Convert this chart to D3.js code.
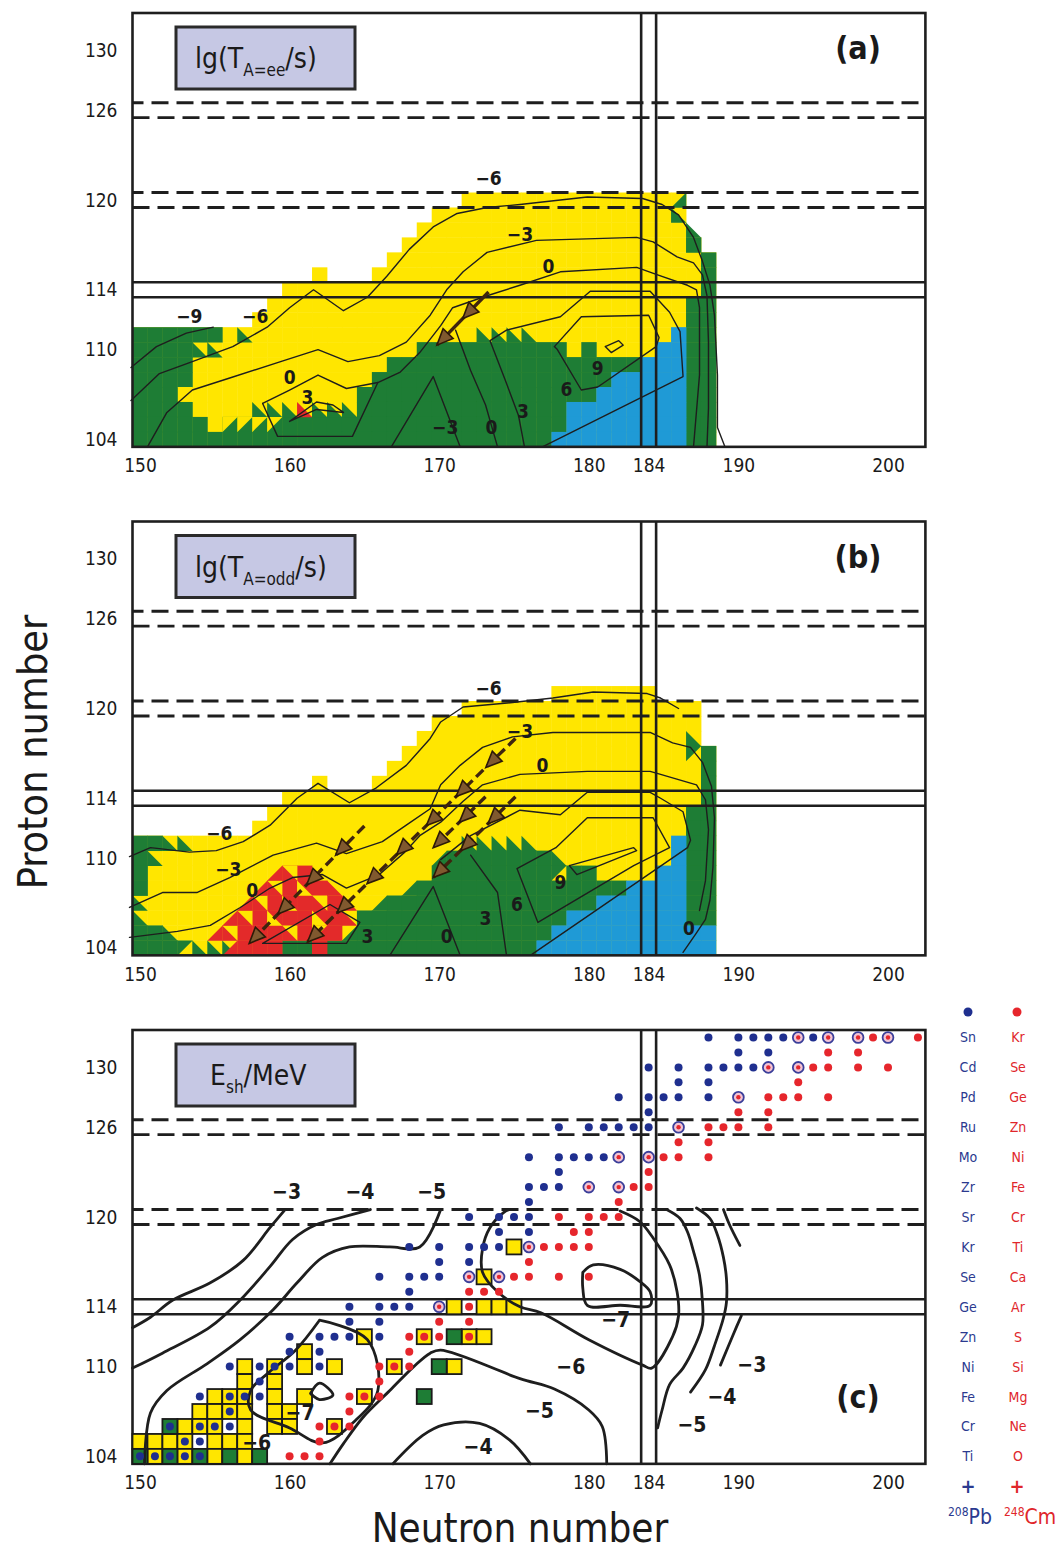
<!DOCTYPE html>
<html>
<head>
<meta charset="utf-8">
<title>Half-lives and shell energies of superheavy nuclei</title>
<script src="https://cdn.jsdelivr.net/npm/d3@7"></script>
<style>
  body { margin: 0; background: #fff; }
  svg text { font-family: "DejaVu Sans Condensed", "DejaVu Sans", sans-serif; fill: #1a1a1a; }
</style>
</head>
<body>
<svg id="chart" width="1057" height="1555"></svg>
<script>
// ---------------- Axes & shell lines ----------------
const xTicks = [150, 160, 170, 180, 184, 190, 200];
const zTicks = [104, 110, 114, 120, 126, 130];
const shellZdashed = [126.5, 125.5, 120.5, 119.5];
const shellZsolid = [114.5, 113.5];
const shellN = [183.5, 184.5];

// ---------------- Panel (a): lg(T A=ee / s) ----------------
// runs: [Z, firstN, lastN]
const aAll = [[120,172,186],[119,170,186],[118,169,186],[117,168,187],[116,167,188],[115,162,162],[115,166,188],
  [114,160,188],[113,159,188],[112,158,188],[111,150,188],[110,150,188],[109,150,188],[108,150,188],
  [107,150,188],[106,150,188],[105,150,188],[104,150,188]];
const aGreen = [[117,187,187],[116,188,188],[115,188,188],[114,188,188],[113,187,188],[112,187,188],
  [111,150,155],[111,187,188],[110,150,153],[110,169,178],[110,180,180],[110,187,188],
  [109,150,153],[109,167,183],[109,187,188],[108,150,153],[108,166,181],[108,187,188],
  [107,150,152],[107,165,180],[107,187,188],[106,150,153],[106,165,178],[106,187,188],
  [105,150,154],[105,156,178],[105,187,188],[104,150,177],[104,187,188]];
const aBlue = [[111,186,186],[110,185,186],[109,184,186],[108,182,186],[107,181,186],[106,179,186],[105,179,186],[104,178,186]];
const aRed = [];
// half cells: [N, Z, corner of the right angle]
const aGreenTri = [[186,120,"lr"],[186,119,"ll"],[187,118,"ll"],[157,111,"ll"],[173,111,"ll"],[174,111,"ll"],
  [175,111,"ll"],[176,111,"ll"],[154,110,"ll"],[155,110,"ll"],[158,106,"ll"],[159,106,"ll"],[160,106,"ll"],
  [162,106,"ll"],[163,106,"ll"],[164,106,"ll"]];
const aYellowTri = [[153,107,"ur"],[156,105,"ul"],[157,105,"ul"],[158,105,"ul"],[159,105,"ul"]];
const aRedTri = [[161,106,"ll"]];
const aContours = [
  [[149.4,108.8],[151.1,110.2],[153.1,111.1],[154.9,111.5]],
  [[149.4,106.6],[151.3,108.4],[153.5,109.2],[156.2,110.2],[158.5,111.5],[160.0,112.8],[161.6,114.0],[163.6,112.6],
   [165.2,113.5],[166.5,114.9],[168.0,116.7],[169.6,118.2],[171.2,119.1],[173.2,119.5],[175.4,119.7],[179.9,120.2],
   [183.6,120.1],[184.9,119.7],[186.0,119.0],[187.0,117.5],[187.6,115.9],[188.1,114.3],[188.4,112.3],[188.6,108.3],
   [188.6,104.8],[189.1,103.5]],
  [[150.5,103.5],[151.8,105.8],[153.5,107.3],[156.0,108.1],[159.4,109.2],[161.9,110.0],[163.9,109.2],[166.0,109.6],
   [167.8,110.5],[169.4,112.3],[170.5,114.0],[171.6,115.2],[173.2,116.5],[176.5,117.3],[183.2,117.5],[184.3,117.2],
   [185.9,116.2],[187.0,115.8],[187.6,115.0],[187.9,113.6],[188.0,110.5],[188.0,106.1],[187.9,103.5]],
  [[158.2,106.4],[160.0,107.3],[161.9,108.3],[163.8,107.4],[165.9,107.8],[167.4,108.5],[168.7,109.8],[170.1,111.6],
   [170.9,112.8],[173.2,113.6],[175.4,114.3],[178.1,115.2],[183.2,115.5],[184.6,115.0],[186.6,114.3],[187.2,114.0],
   [187.4,112.8],[187.4,108.3],[187.0,103.5]],
  [[158.2,106.4],[159.2,104.2],[164.2,104.2],[165.9,107.8]],
  [[160.0,105.2],[161.8,106.5],[162.9,106.3],[163.6,105.8],[161.8,106.0],[160.0,105.2]],
  [[176.9,103.5],[186.3,108.2],[186.1,111.2],[185.4,112.5],[184.1,113.9],[180.1,113.9],[178.1,112.2],[174.5,111.3],
   [173.4,110.6],[174.4,108.0],[175.3,105.6],[175.7,103.5]],
  [[177.7,110.2],[179.5,112.2],[184.0,112.3],[184.7,110.8],[184.5,110.2],[180.6,107.5],[179.5,107.3],[177.9,110.0],[177.7,110.2]],
  [[181.1,110.2],[182.0,110.6],[182.3,110.3],[181.5,109.8],[181.1,110.2]],
  [[166.8,103.5],[169.6,108.2],[171.4,103.5]],
  [[171.1,111.3],[172.1,108.6],[173.1,106.3],[173.9,103.5]]
];
const aLabels = [[153.3,112.25,"−9"],[157.7,112.25,"−6"],[160.0,108.2,"0"],[161.2,106.8,"3"],[173.3,121.5,"−6"],
  [175.4,117.7,"−3"],[177.3,115.6,"0"],[170.4,104.8,"−3"],[173.5,104.8,"0"],[175.6,105.9,"3"],[178.5,107.4,"6"],[180.6,108.8,"9"]];
// decay paths: [from, to, number of heads]
const aArrows = [[[173.3,113.85],[169.85,110.3],2]];

// ---------------- Panel (b): lg(T A=odd / s) ----------------
const bAll = [[121,178,184],[120,172,187],[119,170,187],[118,169,187],[117,168,188],[116,167,188],[115,162,162],
  [115,166,188],[114,160,188],[113,159,188],[112,158,188],[111,150,188],[110,150,188],[109,150,188],[108,150,188],
  [107,150,188],[106,150,188],[105,150,188],[104,150,188]];
const bGreen = [[117,188,188],[116,188,188],[115,188,188],[114,188,188],[113,187,188],[112,187,188],
  [111,150,151],[111,187,188],[110,150,150],[110,171,177],[110,187,188],[109,150,150],[109,170,177],[109,179,180],
  [109,187,188],[108,150,150],[108,169,182],[108,187,188],[107,167,180],[107,187,188],[106,165,178],[106,187,188],
  [105,150,151],[105,165,177],[104,150,152],[104,160,161],[104,163,176]];
const bBlue = [[111,186,186],[110,186,186],[109,185,186],[108,183,186],[107,181,186],[106,179,186],[105,178,188],[104,177,188]];
const bRed = [[109,160,161],[108,159,162],[107,158,163],[106,157,163],[105,156,163],[104,157,159],[104,162,162]];
const bGreenTri = [[152,111,"ll"],[153,111,"ll"],[151,110,"ll"],[150,107,"ll"],[150,106,"ll"],[152,105,"ll"],
  [153,104,"ul"],[154,104,"ll"],[155,104,"ll"],[156,104,"ll"],[172,111,"ll"],[173,111,"ll"],[174,111,"ll"],
  [175,111,"ll"],[176,111,"ll"],[170,110,"lr"],[178,110,"ll"],[178,109,"ul"],[187,118,"ll"],[187,117,"ul"],
  [164,105,"lr"],[166,107,"lr"],[168,108,"lr"]];
const bYellowTri = [[160,109,"ur"],[161,108,"ll"],[159,108,"ur"],[158,107,"ur"],[160,107,"ll"],[162,107,"ur"],
  [157,106,"ur"],[159,106,"ll"],[162,106,"ll"],[156,105,"ur"],[160,105,"ur"],[162,105,"ul"]];
const bRedTri = [[159,109,"lr"],[158,108,"lr"],[163,108,"ll"],[157,107,"lr"],[164,107,"ll"],[156,106,"lr"],
  [155,105,"lr"],[164,106,"ll"],[156,104,"lr"]];
const bContours = [
  [[149.3,110.1],[150.7,110.7],[153.3,110.4],[155.1,110.5],[156.9,111.1],[158.7,112.2],[160.5,114.0],[161.9,115.0],
   [164.0,113.7],[165.8,114.7],[167.8,116.2],[169.4,118.0],[170.1,119.1],[171.6,120.1],[174.9,120.4],[177.6,120.7],
   [180.3,121.1],[183.9,121.0],[184.8,120.7],[186.0,120.0]],
  [[149.3,106.7],[151.5,107.7],[153.8,107.7],[156.0,108.7],[158.9,110.2],[161.8,111.0],[163.8,110.3],[166.2,111.1],
   [167.8,112.2],[169.4,113.3],[170.1,114.9],[171.4,116.2],[172.9,117.4],[174.9,118.1],[177.6,118.4],[184.1,118.4],
   [185.6,117.7],[186.8,117.4],[187.6,116.4],[188.2,114.8],[188.4,112.7],[188.3,109.4],[188.1,107.2],[187.8,105.9],
   [187.2,105.0],[186.3,103.7]],
  [[149.3,104.7],[152.5,105.1],[154.7,105.5],[156.7,106.7],[158.7,108.0],[160.2,108.7],[162.2,108.9],[163.8,108.0],
   [166.0,108.9],[167.7,110.4],[168.7,111.5],[170.1,112.4],[171.6,113.8],[172.9,114.9],[175.4,115.6],[179.9,115.8],
   [184.1,115.8],[184.8,115.6],[187.2,114.9],[187.8,113.9],[188.0,111.9],[187.8,108.5],[187.4,106.5]],
  [[158.2,104.3],[162.7,106.9],[164.7,105.7],[163.8,104.3],[158.2,104.3]],
  [[170.1,109.9],[172.1,111.5],[175.4,113.2],[178.1,112.9],[179.9,114.4],[184.1,114.4],[184.8,114.0],[186.3,113.1],
   [186.8,111.2],[186.6,110.7],[176.1,103.5]],
  [[177.8,110.7],[179.9,112.7],[184.3,112.7],[185.4,110.7],[183.0,109.5],[176.6,105.7],[175.2,109.3],[177.8,110.7]],
  [[178.7,109.5],[179.2,108.9],[183.2,110.5],[183.0,110.7],[178.7,109.5]],
  [[166.7,103.5],[169.6,108.1],[171.4,103.5]],
  [[172.1,110.2],[173.9,107.7],[174.5,103.5]]
];
const bLabels = [[155.3,111.7,"−6"],[155.9,109.3,"−3"],[157.5,107.9,"0"],[165.2,104.8,"3"],[173.3,121.4,"−6"],
  [175.4,118.5,"−3"],[176.9,116.2,"0"],[170.5,104.8,"0"],[173.1,106.0,"3"],[175.2,106.9,"6"],[178.1,108.4,"9"],[186.7,105.3,"0"]];
const bArrows = [[[165.0,112.15],[157.3,104.3],4],[[175.1,118.0],[161.2,104.4],7],
  [[175.1,114.1],[169.6,108.7],3],[[173.1,114.1],[169.6,110.7],2]];

// ---------------- Panel (c): E_sh / MeV ----------------
const cContours = [
  [[149.5,112.6],[150.7,113.3],[152.2,114.45],[154.7,115.6],[156.9,117.1],[158.7,119.3],[159.7,120.5]],
  [[149.5,109.9],[151.5,110.9],[154.7,112.65],[156.7,114.45],[158.7,116.7],[160.2,118.5],[161.8,119.5],[163.2,119.9],[165.4,120.5]],
  [[150.3,103.5],[150.7,106.9],[151.8,108.4],[154.5,110.2],[156.7,111.8],[158.9,113.8],[160.5,115.6],[162.2,117.3],
   [164.0,118.0],[166.7,118.0],[168.7,118.0],[170.1,120.5]],
  [[162.0,113.1],[165.2,111.8],[165.9,108.4],[164.4,106.4],[162.2,104.9],[160.0,105.9],[157.4,107.1],[157.4,108.4],
   [158.6,109.6],[160.4,111.1],[162.0,113.1]],
  [[161.4,108.2],[162.0,108.9],[162.9,108.1],[162.0,107.8],[161.4,108.2]],
  [[174.7,120.5],[174.3,120.3],[173.4,119.3],[172.9,117.9],[172.9,116.3],[173.9,115.0],[175.4,114.0],[176.8,113.6],
   [180.0,111.8],[183.6,110.1],[184.2,109.9],[185.6,112.0],[186.0,113.4],[185.9,115.0],[185.4,116.8],[184.3,118.6],
   [183.4,119.7],[182.1,120.4]],
  [[179.6,116.3],[180.3,116.8],[182.1,116.5],[183.4,115.7],[184.1,115.0],[184.1,114.1],[182.1,114.1],[179.9,114.1],
   [179.6,115.25],[179.6,116.3]],
  [[162.7,103.5],[163.6,104.85],[164.9,106.6],[166.7,108.4],[168.3,110.0],[169.4,110.9],[170.1,111.1],[175.4,109.2],
   [177.7,108.5],[180.0,107.1],[180.9,106.0],[181.2,103.5]],
  [[166.9,103.5],[168.9,105.4],[170.3,106.1],[172.7,106.2],[174.7,105.1],[176.1,103.5]],
  [[185.2,120.5],[186.1,119.9],[186.6,119.0],[187.0,117.7],[187.4,116.1],[187.6,114.3],[187.6,112.8],[187.1,111.4],
   [186.3,109.9],[185.4,108.8],[184.9,107.1],[184.6,105.9]],
  [[187.2,120.6],[188.1,119.9],[188.6,118.8],[189.0,117.3],[189.2,115.9],[189.2,114.3],[189.0,113.25],[188.4,111.4],
   [187.8,109.8],[186.8,108.3]],
  [[189.0,120.5],[189.4,119.5],[190.1,118.1]],
  [[190.2,113.4],[189.7,112.25],[188.8,110.1]]
];
const cLabels = [[159.8,121.7,"−3"],[164.7,121.7,"−4"],[169.5,121.7,"−5"],[181.8,113.1,"−7"],[178.8,110.0,"−6"],
  [176.7,107.0,"−5"],[172.6,104.6,"−4"],[190.9,110.1,"−3"],[188.9,108.0,"−4"],[186.9,106.1,"−5"],[160.7,106.9,"−7"],[157.8,104.9,"−6"]];
// compound nuclei reached with 208Pb targets (blue), 248Cm targets (red), both
const blueDots = [[188,132],[190,132],[191,132],[192,132],[193,132],[195,132],[190,131],[192,131],
  [184,130],[186,130],[188,130],[189,130],[190,130],[191,130],[186,129],[188,129],
  [182,128],[184,128],[185,128],[186,128],[188,128],[184,127],
  [178,126],[180,126],[181,126],[182,126],[183,126],[184,126],
  [176,124],[178,124],[179,124],[180,124],[181,124],[178,123],[176,122],[177,122],[178,122],[176,121],
  [172,120],[174,120],[175,120],[176,120],[174,119],[176,119],
  [168,118],[170,118],[172,118],[173,118],[174,118],[170,117],[172,117],
  [166,116],[168,116],[169,116],[170,116],[168,115],[164,114],[166,114],[167,114],[168,114],[164,113],[166,113],
  [160,112],[162,112],[163,112],[164,112],[166,112],[160,111],[162,111],
  [156,110],[158,110],[159,110],[160,110],[162,110],[158,109],[154,108],[156,108],[157,108],[158,108],[156,107],
  [152,106],[154,106],[155,106],[156,106],[153,105],[154,105],[150,104],[151,104],[152,104],[153,104],[154,104]];
const redDots = [[199,132],[202,132],[196,131],[198,131],[195,130],[196,130],[198,130],[200,130],[194,129],
  [192,128],[193,128],[194,128],[196,128],[190,127],[192,127],[188,126],[189,126],[190,126],[192,126],
  [186,125],[188,125],[185,124],[186,124],[188,124],[184,123],[183,122],[184,122],[182,121],
  [178,120],[180,120],[181,120],[182,120],[179,119],[180,119],[177,118],[178,118],[179,118],[180,118],[176,117],
  [175,116],[176,116],[178,116],[180,116],[172,115],[173,115],[174,115],[172,114],[170,113],[172,113],
  [168,112],[169,112],[170,112],[172,112],[168,111],[166,110],[167,110],[168,110],[166,109],
  [164,108],[165,108],[166,108],[164,107],[162,106],[163,106],[164,106],[162,105],[160,104],[161,104],[162,104]];
const bothDots = [[194,132],[196,132],[198,132],[200,132],[192,130],[194,130],[190,128],[186,126],[182,124],[184,124],
  [180,122],[182,122],[176,118],[172,116],[174,116],[170,114]];
// known nuclei: squares
const yellowSq = [[175,118],[173,116],[171,114],[173,114],[174,114],[175,114],[165,112],[169,112],[172,112],[173,112],
  [161,111],[157,110],[159,110],[161,110],[163,110],[167,110],[171,110],[157,109],[159,109],
  [155,108],[156,108],[157,108],[159,108],[161,108],[165,108],[154,107],[155,107],[156,107],[157,107],[159,107],[160,107],
  [153,106],[154,106],[155,106],[157,106],[159,106],[160,106],[163,106],
  [150,105],[151,105],[152,105],[153,105],[155,105],[156,105],[157,105],[151,104],[153,104],[155,104],[157,104]];
const greenSq = [[171,112],[170,110],[169,108],[152,106],[150,104],[152,104],[154,104],[156,104],[158,104]];

// legend (projectile per compound proton number)
const legendZ = [132,130,128,126,124,122,120,118,116,114,112,110,108,106,104];
const pbProjectiles = ["Sn","Cd","Pd","Ru","Mo","Zr","Sr","Kr","Se","Ge","Zn","Ni","Fe","Cr","Ti"];
const cmProjectiles = ["Kr","Se","Ge","Zn","Ni","Fe","Cr","Ti","Ca","Ar","S","Si","Mg","Ne","O"];

// ---------------- Drawing ----------------
const COL = { Y: "#ffe600", G: "#1e7d35", B: "#1f9ad6", R: "#e32a2a", ink: "#1e1e1e",
              dotB: "#1f2f8f", dotR: "#e6262c", box: "#c6c8e4" };
const svg = d3.select("#chart");
const x = d3.scaleLinear().domain([149.5, 202.5]).range([132.5, 925.4]);
const CELL = x(1) - x(0);
const PANEL_H = CELL * 29;
const makeY = top => d3.scaleLinear().domain([103.5, 132.5]).range([top + PANEL_H, top]);

function cells(g, y, runs, color) {
  const data = runs.flatMap(([z, n0, n1]) => d3.range(n0, n1 + 1).map(n => [n, z]));
  g.append("g").selectAll("rect").data(data).join("rect")
    .attr("x", d => x(d[0] - 0.5)).attr("y", d => y(d[1] + 0.5))
    .attr("width", CELL + 0.4).attr("height", CELL + 0.4).attr("fill", color);
}
function tris(g, y, list, color) {
  g.append("g").selectAll("path").data(list).join("path")
    .attr("d", ([n, z, c]) => {
      const L = x(n - 0.5), R = x(n + 0.5) + 0.3, T = y(z + 0.5), B = y(z - 0.5) + 0.3;
      const p = { ll: [[L,B],[R,B],[L,T]], lr: [[R,B],[L,B],[R,T]], ul: [[L,T],[R,T],[L,B]], ur: [[R,T],[L,T],[R,B]] }[c];
      return d3.line()(p) + "Z";
    })
    .attr("fill", color);
}
function contours(g, y, list, width, curve) {
  const line = d3.line().x(d => x(d[0])).y(d => y(d[1])).curve(curve);
  g.append("g").selectAll("path").data(list).join("path")
    .attr("d", line).attr("fill", "none").attr("stroke", COL.ink)
    .attr("stroke-width", width).attr("stroke-linejoin", "round").attr("stroke-linecap", "round");
}
function labels(g, y, list, size, weight) {
  g.append("g").selectAll("text").data(list).join("text")
    .attr("x", d => x(d[0])).attr("y", d => y(d[1]))
    .attr("text-anchor", "middle").attr("dominant-baseline", "central")
    .attr("font-size", size).attr("font-weight", weight).text(d => d[2]);
}
function arrows(g, y, list, dashed) {
  const ag = g.append("g");
  list.forEach(([s, e, n]) => {
    const x0 = x(s[0]), y0 = y(s[1]), x1 = x(e[0]), y1 = y(e[1]);
    ag.append("line").attr("x1", x0).attr("y1", y0).attr("x2", x1).attr("y2", y1)
      .attr("stroke", "#3f250f").attr("stroke-width", 3.4)
      .attr("stroke-dasharray", dashed ? "10 5" : null);
    const ang = Math.atan2(y1 - y0, x1 - x0);
    d3.range(1, n + 1).forEach(k => {
      const hx = x0 + (x1 - x0) * k / n, hy = y0 + (y1 - y0) * k / n;
      const len = 16, hw = 7;
      const bx = hx - len * Math.cos(ang), by = hy - len * Math.sin(ang);
      const pts = [[hx, hy], [bx + hw * Math.sin(ang), by - hw * Math.cos(ang)], [bx - hw * Math.sin(ang), by + hw * Math.cos(ang)]];
      ag.append("path").attr("d", d3.line()(pts) + "Z")
        .attr("fill", "#80592f").attr("stroke", "#2e1a08").attr("stroke-width", 1.6);
    });
  });
}
function frameAndLines(g, y, top) {
  const L = x.range()[0], R = x.range()[1], B = top + PANEL_H;
  g.append("g").selectAll("line").data(shellZdashed).join("line")
    .attr("x1", L).attr("x2", R).attr("y1", d => y(d)).attr("y2", d => y(d))
    .attr("stroke", COL.ink).attr("stroke-width", 2.8).attr("stroke-dasharray", "17 8")
    .attr("stroke-dashoffset", (d, i) => (i % 2 ? 0 : 6));
  g.append("g").selectAll("line").data(shellZsolid).join("line")
    .attr("x1", L).attr("x2", R).attr("y1", d => y(d)).attr("y2", d => y(d))
    .attr("stroke", COL.ink).attr("stroke-width", 2.6);
  g.append("g").selectAll("line").data(shellN).join("line")
    .attr("x1", d => x(d)).attr("x2", d => x(d)).attr("y1", top).attr("y2", B)
    .attr("stroke", COL.ink).attr("stroke-width", 2.6);
  g.append("rect").attr("x", L).attr("y", top).attr("width", R - L).attr("height", PANEL_H)
    .attr("fill", "none").attr("stroke", COL.ink).attr("stroke-width", 2.6);
  // axes (labels only)
  const ax = g.append("g").attr("transform", `translate(0,${B})`)
    .call(d3.axisBottom(x).tickValues(xTicks).tickSize(0).tickPadding(12).tickFormat(d3.format("d")));
  const ay = g.append("g").attr("transform", `translate(${L},0)`)
    .call(d3.axisLeft(y).tickValues(zTicks).tickSize(0).tickPadding(15).tickFormat(d3.format("d")));
  [ax, ay].forEach(a => {
    a.select(".domain").remove();
    a.selectAll("text").attr("font-size", 19).attr("fill", COL.ink)
      .attr("font-family", '"DejaVu Sans Condensed", "DejaVu Sans", sans-serif');
  });
}
function titleBox(g, top, main, sub, tail) {
  g.append("rect").attr("x", 176).attr("y", top + 14).attr("width", 179).attr("height", 62)
    .attr("fill", COL.box).attr("stroke", "#2a2a2a").attr("stroke-width", 3);
  const t = g.append("text").attr("x", main === "E" ? 210 : 195).attr("y", top + 55).attr("font-size", 28);
  t.append("tspan").text(main);
  t.append("tspan").attr("font-size", 17).attr("dy", 8).text(sub);
  t.append("tspan").attr("dy", -8).text(tail);
}
function tag(g, top, s, dy) {
  g.append("text").attr("x", 858).attr("y", top + dy).attr("text-anchor", "middle")
    .attr("font-size", 32).attr("font-weight", "bold").text(s);
}

const topA = 13, topB = 521.5, topC = 1030;

// Panel (a)
{
  const y = makeY(topA), g = svg.append("g");
  cells(g, y, aAll, COL.Y); cells(g, y, aGreen, COL.G); cells(g, y, aBlue, COL.B); cells(g, y, aRed, COL.R);
  tris(g, y, aGreenTri, COL.G); tris(g, y, aYellowTri, COL.Y); tris(g, y, aRedTri, COL.R);
  contours(g, y, aContours, 1.4, d3.curveLinear);
  frameAndLines(g, y, topA);
  arrows(g, y, aArrows, false);
  labels(g, y, aLabels, 19, "bold");
  titleBox(g, topA, "lg(T", "A=ee", "/s)");
  tag(g, topA, "(a)", 46);
}
// Panel (b)
{
  const y = makeY(topB), g = svg.append("g");
  cells(g, y, bAll, COL.Y); cells(g, y, bGreen, COL.G); cells(g, y, bBlue, COL.B); cells(g, y, bRed, COL.R);
  tris(g, y, bGreenTri, COL.G); tris(g, y, bYellowTri, COL.Y); tris(g, y, bRedTri, COL.R);
  contours(g, y, bContours, 1.4, d3.curveLinear);
  frameAndLines(g, y, topB);
  arrows(g, y, bArrows, true);
  labels(g, y, bLabels, 19, "bold");
  titleBox(g, topB, "lg(T", "A=odd", "/s)");
  tag(g, topB, "(b)", 46);
}
// Panel (c)
{
  const y = makeY(topC), g = svg.append("g");
  frameAndLines(g, y, topC);
  const sq = (list, color) => g.append("g").selectAll("rect").data(list).join("rect")
    .attr("x", d => x(d[0] - 0.5)).attr("y", d => y(d[1] + 0.5))
    .attr("width", CELL).attr("height", CELL).attr("fill", color)
    .attr("stroke", "#1a1a1a").attr("stroke-width", 1.8);
  sq(yellowSq, COL.Y); sq(greenSq, COL.G);
  contours(g, y, cContours, 2.8, d3.curveCatmullRom.alpha(0.5));
  g.append("g").selectAll("circle").data(blueDots).join("circle")
    .attr("cx", d => x(d[0])).attr("cy", d => y(d[1])).attr("r", 4).attr("fill", COL.dotB);
  g.append("g").selectAll("circle").data(redDots).join("circle")
    .attr("cx", d => x(d[0])).attr("cy", d => y(d[1])).attr("r", 4).attr("fill", COL.dotR);
  const both = g.append("g").selectAll("g").data(bothDots).join("g")
    .attr("transform", d => `translate(${x(d[0])},${y(d[1])})`);
  both.append("circle").attr("r", 5.4).attr("fill", "#f2c4d4").attr("stroke", "#3b3f9a").attr("stroke-width", 1.8);
  both.append("circle").attr("r", 2.2).attr("fill", COL.dotR);
  labels(g, y, cLabels, 21, "bold");
  titleBox(g, topC, "E", "sh", "/MeV");
  tag(g, topC, "(c)", 378);

  // legend
  const lg = svg.append("g").attr("font-size", 14);
  lg.append("circle").attr("cx", 968).attr("cy", 1012).attr("r", 4.5).attr("fill", COL.dotB);
  lg.append("circle").attr("cx", 1017).attr("cy", 1012).attr("r", 4.5).attr("fill", COL.dotR);
  lg.selectAll("text.pb").data(pbProjectiles).join("text").attr("class", "pb")
    .attr("x", 968).attr("y", (d, i) => y(legendZ[i])).attr("text-anchor", "middle")
    .attr("dominant-baseline", "central").style("fill", "#2b3a8f").text(d => d);
  lg.selectAll("text.cm").data(cmProjectiles).join("text").attr("class", "cm")
    .attr("x", 1018).attr("y", (d, i) => y(legendZ[i])).attr("text-anchor", "middle")
    .attr("dominant-baseline", "central").style("fill", "#e0262b").text(d => d);
  lg.append("text").attr("x", 968).attr("y", y(102)).attr("text-anchor", "middle").attr("dominant-baseline", "central")
    .attr("font-size", 20).attr("font-weight", "bold").style("fill", "#2b3a8f").text("+");
  lg.append("text").attr("x", 1017).attr("y", y(102)).attr("text-anchor", "middle").attr("dominant-baseline", "central")
    .attr("font-size", 20).attr("font-weight", "bold").style("fill", "#e0262b").text("+");
  const pb = lg.append("text").attr("x", 970).attr("y", 1524).attr("text-anchor", "middle").style("fill", "#2b3a8f");
  pb.append("tspan").attr("font-size", 12).attr("dy", -8).text("208");
  pb.append("tspan").attr("font-size", 21).attr("dy", 8).text("Pb");
  const cm = lg.append("text").attr("x", 1030).attr("y", 1524).attr("text-anchor", "middle").style("fill", "#e0262b");
  cm.append("tspan").attr("font-size", 12).attr("dy", -8).text("248");
  cm.append("tspan").attr("font-size", 21).attr("dy", 8).text("Cm");
}

// axis titles
svg.append("text").attr("transform", "translate(47,752) rotate(-90)").attr("text-anchor", "middle")
  .attr("font-size", 41).attr("font-family", '"DejaVu Sans", sans-serif').text("Proton number");
svg.append("text").attr("x", 520).attr("y", 1542).attr("text-anchor", "middle")
  .attr("font-size", 40).attr("font-family", '"DejaVu Sans", sans-serif').text("Neutron number");
</script>
</body>
</html>
